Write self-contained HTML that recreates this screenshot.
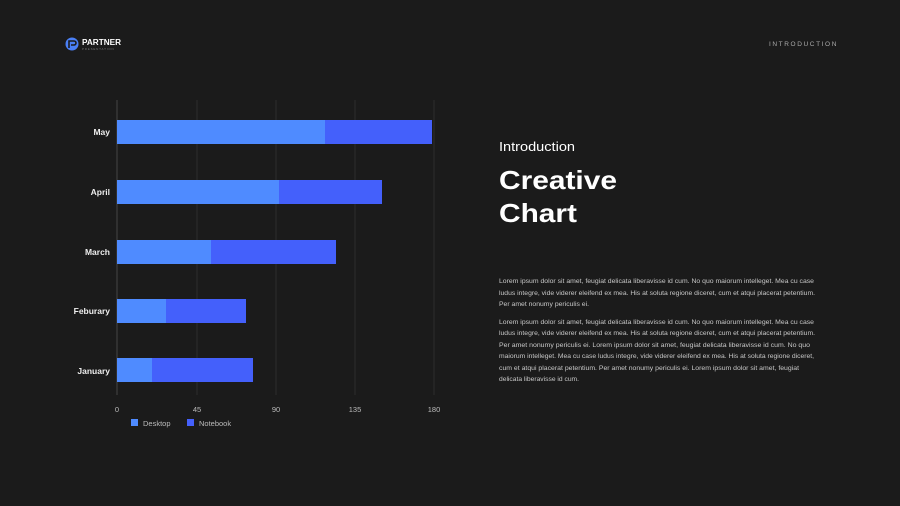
<!DOCTYPE html>
<html><head><meta charset="utf-8"><style>
html,body{margin:0;padding:0;background:#1b1b1b;}
svg{display:block;font-family:"Liberation Sans",sans-serif;}
</style></head><body>
<svg width="900" height="506" viewBox="0 0 900 506" xmlns="http://www.w3.org/2000/svg">
<rect width="900" height="506" fill="#1b1b1b"/>
<!-- logo -->
<circle cx="72" cy="44" r="6.5" fill="#4a7ff5"/>
<path d="M69 48 V41 H74 a2 2 0 0 1 0 4 H71" stroke="#1b1b1b" stroke-width="1.6" fill="none"/>
<text x="82" y="45" font-size="8" font-weight="bold" fill="#fff" textLength="39" lengthAdjust="spacingAndGlyphs">PARTNER</text>
<text x="82" y="50" font-size="3" fill="#777" letter-spacing="0.8">PRESENTATION</text>
<text x="838" y="46" font-size="6.5" fill="#aaa" letter-spacing="1.6" text-anchor="end">INTRODUCTION</text>
<!-- grid -->
<g stroke="#2d2d2d" stroke-width="1">
<line x1="197" y1="100" x2="197" y2="395"/>
<line x1="276" y1="100" x2="276" y2="395"/>
<line x1="355" y1="100" x2="355" y2="395"/>
<line x1="434" y1="100" x2="434" y2="395"/>
</g>
<line x1="117" y1="100" x2="117" y2="395" stroke="#444" stroke-width="1"/>
<!-- bars -->
<g>
<rect x="117" y="120" width="208" height="24" fill="#4f8bff"/><rect x="325" y="120" width="107" height="24" fill="#4460fb"/>
<rect x="117" y="180" width="162" height="24" fill="#4f8bff"/><rect x="279" y="180" width="103" height="24" fill="#4460fb"/>
<rect x="117" y="240" width="94" height="24" fill="#4f8bff"/><rect x="211" y="240" width="125" height="24" fill="#4460fb"/>
<rect x="117" y="299" width="49" height="24" fill="#4f8bff"/><rect x="166" y="299" width="80" height="24" fill="#4460fb"/>
<rect x="117" y="358" width="35" height="24" fill="#4f8bff"/><rect x="152" y="358" width="101" height="24" fill="#4460fb"/>
</g>
<g font-size="8.5" font-weight="bold" fill="#eee" text-anchor="end">
<text x="110" y="135">May</text>
<text x="110" y="195">April</text>
<text x="110" y="255">March</text>
<text x="110" y="314">Feburary</text>
<text x="110" y="374">January</text>
</g>
<g font-size="7.5" fill="#bbb" text-anchor="middle">
<text x="117" y="412">0</text><text x="197" y="412">45</text><text x="276" y="412">90</text><text x="355" y="412">135</text><text x="434" y="412">180</text>
</g>
<rect x="131" y="419" width="7" height="7" fill="#4f8bff"/>
<text x="143" y="426" font-size="7.5" fill="#bbb">Desktop</text>
<rect x="187" y="419" width="7" height="7" fill="#4460fb"/>
<text x="199" y="426" font-size="7.5" fill="#bbb">Notebook</text>
<!-- right text -->
<text x="499" y="151" font-size="12.5" fill="#fff" textLength="76" lengthAdjust="spacingAndGlyphs">Introduction</text>
<text x="499" y="189" font-size="26" font-weight="bold" fill="#fff" textLength="118" lengthAdjust="spacingAndGlyphs">Creative</text>
<text x="499" y="222" font-size="26" font-weight="bold" fill="#fff" textLength="78" lengthAdjust="spacingAndGlyphs">Chart</text>
<g font-size="6" fill="#c8c8c8">
<text x="499" y="283" textLength="315" lengthAdjust="spacingAndGlyphs">Lorem ipsum dolor sit amet, feugiat delicata liberavisse id cum. No quo maiorum intelleget. Mea cu case</text>
<text x="499" y="295" textLength="316" lengthAdjust="spacingAndGlyphs">ludus integre, vide viderer eleifend ex mea. His at soluta regione diceret, cum et atqui placerat petentium.</text>
<text x="499" y="306" textLength="90" lengthAdjust="spacingAndGlyphs">Per amet nonumy periculis ei.</text>
<text x="499" y="324" textLength="315" lengthAdjust="spacingAndGlyphs">Lorem ipsum dolor sit amet, feugiat delicata liberavisse id cum. No quo maiorum intelleget. Mea cu case</text>
<text x="499" y="335" textLength="316" lengthAdjust="spacingAndGlyphs">ludus integre, vide viderer eleifend ex mea. His at soluta regione diceret, cum et atqui placerat petentium.</text>
<text x="499" y="347" textLength="311" lengthAdjust="spacingAndGlyphs">Per amet nonumy periculis ei. Lorem ipsum dolor sit amet, feugiat delicata liberavisse id cum. No quo</text>
<text x="499" y="358" textLength="315" lengthAdjust="spacingAndGlyphs">maiorum intelleget. Mea cu case ludus integre, vide viderer eleifend ex mea. His at soluta regione diceret,</text>
<text x="499" y="370" textLength="300" lengthAdjust="spacingAndGlyphs">cum et atqui placerat petentium. Per amet nonumy periculis ei. Lorem ipsum dolor sit amet, feugiat</text>
<text x="499" y="381" textLength="80" lengthAdjust="spacingAndGlyphs">delicata liberavisse id cum.</text>
</g>
</svg>
</body></html>
